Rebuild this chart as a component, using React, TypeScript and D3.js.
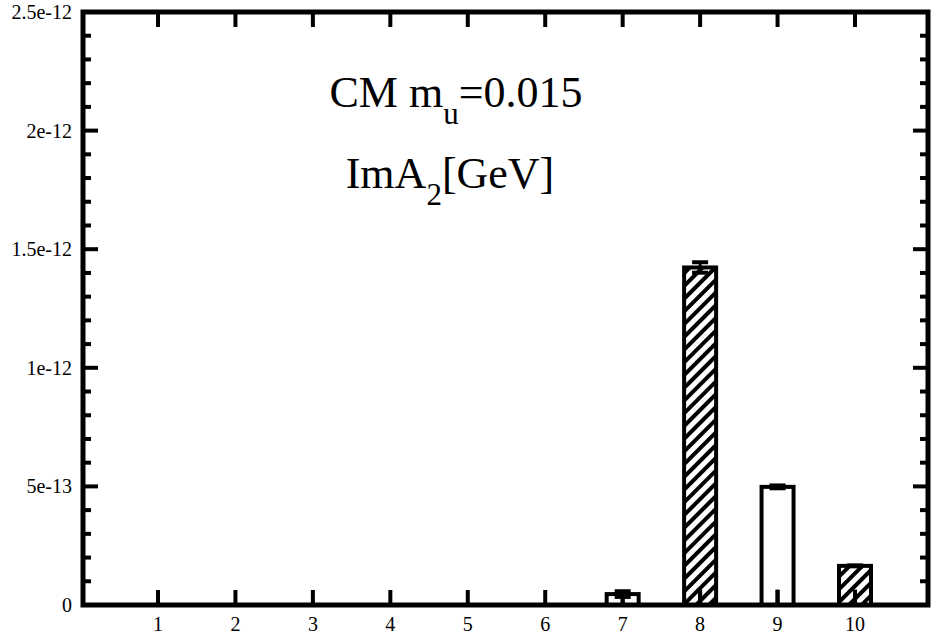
import React, { useEffect, useRef } from "react";
import * as d3 from "d3";

// bar index, value, error, hatched or plain
const categories = [1, 2, 3, 4, 5, 6, 7, 8, 9, 10];
const values = [0, 0, 0, 0, 0, 0, 4.6e-14, 1.423e-12, 4.98e-13, 1.65e-13];
const errors = [0, 0, 0, 0, 0, 0, 1.2e-14, 2.2e-14, 6e-15, 2e-15];
const hatched = [false, false, false, false, false, false, false, true, false, true];
// whisker left at the bar base (second, near-zero series)
const baseErrors = [0, 0, 0, 0, 0, 0, 5e-14, 6.5e-14, 6.5e-14, 6.5e-14];
const yTicks = [0, 5e-13, 1e-12, 1.5e-12, 2e-12, 2.5e-12];
const yTickLabels = ["0", "5e-13", "1e-12", "1.5e-12", "2e-12", "2.5e-12"];

const App = () => {
  const svgRef = useRef(null);

  useEffect(() => {
    const svg = d3.select(svgRef.current);
    svg.selectAll("*").remove();

    const width = 936;
    const height = 634;
    const left = 83, right = 928, top = 12, bottom = 605;
    const font = '"Liberation Serif", Tinos, "Noto Serif", "DejaVu Serif", FreeSerif, Times, serif';

    const x = d3.scaleLinear().domain([1, 10]).range([158, 855]);
    const y = d3.scaleLinear().domain([0, 2.5e-12]).range([bottom, top]);
    const barW = 32;

    const defs = svg.append("defs");
    const pat = defs
      .append("pattern")
      .attr("id", "hatch")
      .attr("patternUnits", "userSpaceOnUse")
      .attr("width", 9)
      .attr("height", 9)
      .attr("patternTransform", "rotate(45)");
    pat.append("rect").attr("width", 9).attr("height", 9).attr("fill", "white");
    pat
      .append("line")
      .attr("x1", 0).attr("y1", 0)
      .attr("x2", 0).attr("y2", 9)
      .attr("stroke", "black")
      .attr("stroke-width", 8);

    svg.attr("width", width).attr("height", height)
      .style("position", "absolute").style("left", 0).style("top", 0)
      .style("font-family", font);
    svg.append("rect").attr("width", width).attr("height", height).attr("fill", "white");

    const data = categories.map((c, i) => ({
      c, v: values[i], e: errors[i], h: hatched[i], b: baseErrors[i],
    }));

    // bars
    svg.append("g")
      .selectAll("rect")
      .data(data.filter((d) => d.v > 0))
      .join("rect")
      .attr("x", (d) => x(d.c) - barW / 2)
      .attr("y", (d) => y(d.v))
      .attr("width", barW)
      .attr("height", (d) => bottom - y(d.v))
      .attr("fill", (d) => (d.h ? "url(#hatch)" : "white"))
      .attr("stroke", "black")
      .attr("stroke-width", 4);

    // base whiskers
    svg.append("g")
      .selectAll("line")
      .data(data.filter((d) => d.b > 0))
      .join("line")
      .attr("x1", (d) => x(d.c)).attr("x2", (d) => x(d.c))
      .attr("y1", bottom).attr("y2", (d) => y(d.b))
      .attr("stroke", "black").attr("stroke-width", 4);

    // error bars
    const eg = svg.append("g").selectAll("g")
      .data(data.filter((d) => d.e > 0))
      .join("g");
    eg.append("line")
      .attr("x1", (d) => x(d.c)).attr("x2", (d) => x(d.c))
      .attr("y1", (d) => y(d.v - d.e)).attr("y2", (d) => y(d.v + d.e))
      .attr("stroke", "black").attr("stroke-width", 3);
    eg.append("line")
      .attr("x1", (d) => x(d.c) - 8).attr("x2", (d) => x(d.c) + 8)
      .attr("y1", (d) => y(d.v + d.e)).attr("y2", (d) => y(d.v + d.e))
      .attr("stroke", "black").attr("stroke-width", 4);
    eg.append("line")
      .attr("x1", (d) => x(d.c) - 8).attr("x2", (d) => x(d.c) + 8)
      .attr("y1", (d) => y(d.v - d.e)).attr("y2", (d) => y(d.v - d.e))
      .attr("stroke", "black").attr("stroke-width", 4);

    // ticks
    const tg = svg.append("g").attr("stroke", "black").attr("stroke-width", 4);
    const minor = d3.range(0, 26).map((k) => k * 1e-13);
    minor.forEach((v, k) => {
      const len = k % 5 === 0 ? 15 : 8;
      tg.append("line").attr("x1", left).attr("x2", left + len).attr("y1", y(v)).attr("y2", y(v));
      tg.append("line").attr("x1", right).attr("x2", right - len).attr("y1", y(v)).attr("y2", y(v));
    });
    categories.forEach((c) => {
      tg.append("line").attr("x1", x(c)).attr("x2", x(c)).attr("y1", bottom).attr("y2", bottom - 15);
      tg.append("line").attr("x1", x(c)).attr("x2", x(c)).attr("y1", top).attr("y2", top + 15);
    });

    // frame
    svg.append("rect")
      .attr("x", left).attr("y", top)
      .attr("width", right - left).attr("height", bottom - top)
      .attr("fill", "none").attr("stroke", "black").attr("stroke-width", 5);

    // tick labels
    svg.append("g")
      .selectAll("text")
      .data(yTicks)
      .join("text")
      .attr("x", 72)
      .attr("y", (d) => y(d) + 7)
      .attr("text-anchor", "end")
      .style("font-family", font)
      .attr("font-size", 20)
      .text((d, i) => yTickLabels[i]);

    svg.append("g")
      .selectAll("text")
      .data(categories)
      .join("text")
      .attr("x", (d) => x(d))
      .attr("y", 631)
      .attr("text-anchor", "middle")
      .style("font-family", font)
      .attr("font-size", 20)
      .text((d) => d);

    // annotation
    const t1 = svg.append("text")
      .attr("x", 456).attr("y", 107)
      .attr("text-anchor", "middle")
      .style("font-family", font)
      .attr("font-size", 44);
    t1.append("tspan").text("CM m");
    t1.append("tspan").attr("font-size", 31).attr("dy", 17).text("u");
    t1.append("tspan").attr("dy", -17).text("=0.015");

    const t2 = svg.append("text")
      .attr("x", 450).attr("y", 188)
      .attr("text-anchor", "middle")
      .style("font-family", font)
      .attr("font-size", 44);
    t2.append("tspan").text("ImA");
    t2.append("tspan").attr("font-size", 31).attr("dy", 17).text("2");
    t2.append("tspan").attr("dy", -17).text("[GeV]");
  }, []);

  return <svg ref={svgRef}></svg>;
};

export default App;
